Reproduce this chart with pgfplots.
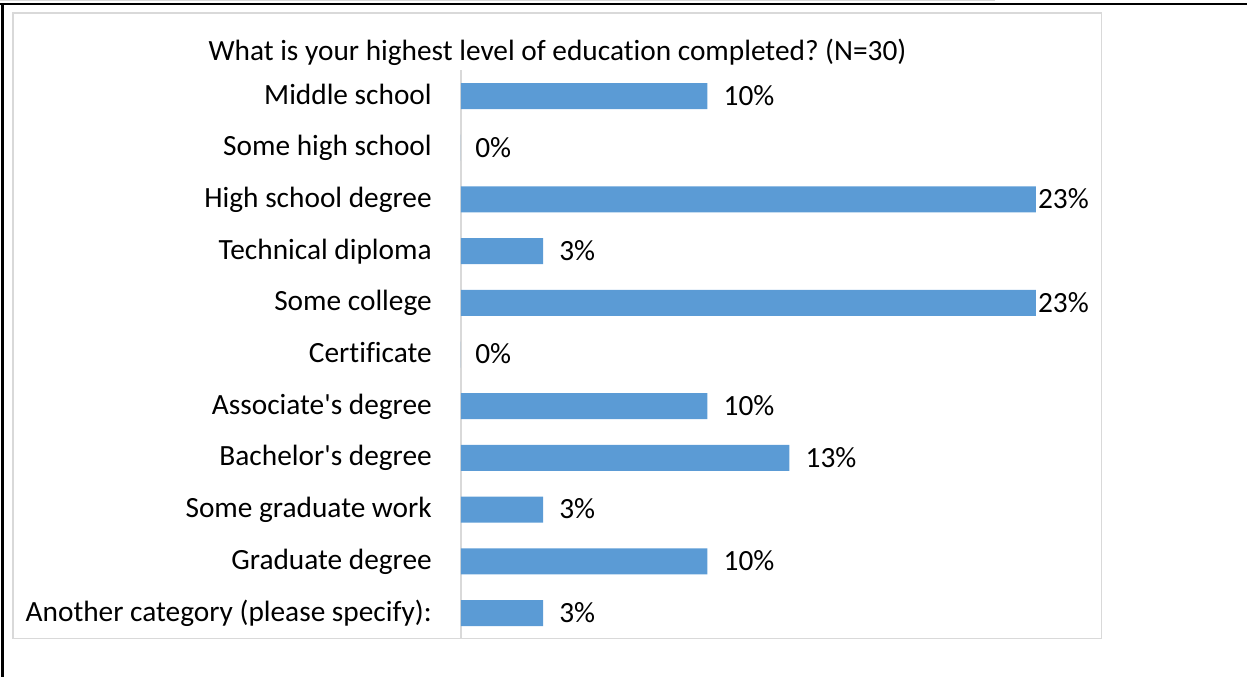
\documentclass[border=0pt]{standalone}
\usepackage{pgfplots}
\pgfplotsset{compat=1.18}
\usepackage{pgfplotstable}
\usepackage{fontspec}
\setmainfont{Carlito}[Ligatures={TeXOff,CommonOff}]
\frenchspacing
\definecolor{barblue}{HTML}{5B9BD5}
\definecolor{frame}{HTML}{D9D9D9}
\pgfplotstableread{
y val lbl sh
0 10.0 10 12
1 0 0 10.5
2 23.33 23 1.5
3 3.33 3 12
4 23.33 23 1.5
5 0 0 10.5
6 10.0 10 12
7 13.33 13 12
8 3.33 3 12
9 10.0 10 12
10 3.33 3 12
}\datatable
\newcommand{\cf}{\fontsize{22}{26}\selectfont}
\begin{document}
\begin{tikzpicture}
\path[use as bounding box] (0pt,0pt) rectangle (935.25pt,507.75pt);
\draw[frame, line width=0.75pt] (0pt,507.4pt) -- (746pt,507.4pt);
\draw[black, line width=1.5pt] (0pt,504.75pt) -- (935.25pt,504.75pt);
\draw[black, line width=2pt] (1.9pt,0pt) -- (1.9pt,505.5pt);
\draw[frame, line width=1.1pt] (9.75pt,28.9pt) rectangle (826.3pt,498pt);
\node[anchor=base, inner sep=0pt, font=\cf] at (418.1pt,462pt) {\frenchspacing What is your highest level of education completed? (N=30)};
\begin{axis}[
  at={(345.75pt,28.6pt)}, anchor=south west,
  scale only axis, width=462pt, height=426.5pt,
  xmin=0, xmax=25, ymin=-0.5, ymax=10.5,
  y dir=reverse,
  axis x line=none,
  axis y line=left,
  y axis line style={-, draw=frame, line width=1.1pt},
  ytick={0,...,10},
  yticklabels={Middle school, Some high school, High school degree, Technical diploma, Some college, Certificate, Associate's degree, Bachelor's degree, Some graduate work, Graduate degree, Another category (please specify):},
  ytick style={draw=none},
  major tick length=0pt,
  yticklabel style={anchor=base east, inner sep=0pt, xshift=-21.75pt, yshift=-6pt, font=\cf},
  xbar, bar width=19.5pt, bar shift=0pt,
  clip=false,
  point meta=explicit symbolic,
  nodes near coords={\pgfplotspointmeta\%},
  visualization depends on={\thisrow{sh}\as\lblsh},
  every node near coord/.append style={anchor=base west, inner sep=0pt, xshift=\lblsh pt, yshift=-7pt, font=\cf, text=black},
]
\addplot[fill=barblue, draw=none] table[x=val, y=y, meta=lbl] {\datatable};
\end{axis}
\end{tikzpicture}
\end{document}
